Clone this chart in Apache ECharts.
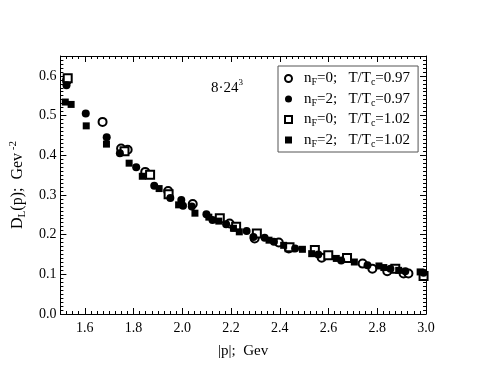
<!DOCTYPE html>
<html>
<head>
<meta charset="utf-8">
<script src="https://cdn.jsdelivr.net/npm/echarts@6/dist/echarts.min.js"></script>
<style>
  html, body { margin: 0; padding: 0; background: #fff; }
  #main { width: 480px; height: 371px; }
</style>
</head>
<body>
<div id="main"></div>
<script>
// data: [|p| (Gev), D_L (Gev^-2)]
var nf0_097 = [
  [1.527, 0.588], [1.673, 0.484], [1.749, 0.417], [1.776, 0.414], [1.848, 0.358],
  [1.942, 0.310], [2.043, 0.277], [2.194, 0.228], [2.297, 0.190], [2.396, 0.180],
  [2.437, 0.165], [2.572, 0.142], [2.740, 0.127], [2.780, 0.114], [2.841, 0.108],
  [2.908, 0.102], [2.928, 0.102]
];
var nf2_097 = [
  [1.525, 0.576], [1.604, 0.505], [1.690, 0.445], [1.744, 0.405], [1.811, 0.370],
  [1.885, 0.323], [1.951, 0.292], [1.996, 0.287], [2.003, 0.273], [2.039, 0.271],
  [2.099, 0.251], [2.124, 0.237], [2.180, 0.226], [2.264, 0.209], [2.292, 0.194],
  [2.338, 0.192], [2.376, 0.182], [2.463, 0.165], [2.558, 0.150], [2.652, 0.135],
  [2.760, 0.123], [2.854, 0.114], [2.915, 0.108], [2.990, 0.104]
];
var nf0_102 = [
  [1.530, 0.594], [1.763, 0.410], [1.868, 0.351], [1.944, 0.302], [2.154, 0.241],
  [2.221, 0.220], [2.306, 0.203], [2.440, 0.168], [2.544, 0.161], [2.599, 0.148],
  [2.676, 0.141], [2.874, 0.114], [2.990, 0.096]
];
var nf2_102 = [
  [1.520, 0.534], [1.544, 0.528], [1.606, 0.474], [1.689, 0.428], [1.782, 0.380],
  [1.836, 0.347], [1.905, 0.316], [1.985, 0.275], [2.052, 0.254], [2.109, 0.244],
  [2.150, 0.234], [2.210, 0.216], [2.234, 0.207], [2.356, 0.186], [2.416, 0.173],
  [2.493, 0.163], [2.531, 0.152], [2.632, 0.140], [2.706, 0.131], [2.807, 0.121],
  [2.827, 0.117], [2.888, 0.110], [2.976, 0.106]
];
var xTicks = [1.6, 1.8, 2.0, 2.2, 2.4, 2.6, 2.8, 3.0];
var seriesNames = ['a', 'b', 'c', 'd'];
var legendTexts = [
  '{g|}{t|n}{s|F}{t|=0;   T/T}{s|c}{t|=0.97}',
  '{g|}{t|n}{s|F}{t|=2;   T/T}{s|c}{t|=0.97}',
  '{g|}{t|n}{s|F}{t|=0;   T/T}{s|c}{t|=1.02}',
  '{g|}{t|n}{s|F}{t|=2;   T/T}{s|c}{t|=1.02}'
];

var font = 'Liberation Serif';
var black = { color: '#000', width: 1 };
var myChart = echarts.init(document.getElementById('main'));

// long ticks + labels at 0.2 steps
function xMajor(pos, show) {
  return {
    type: 'value', position: pos, min: 1.5, max: 3.0, interval: 0.025,
    axisLine: { show: true, onZero: false, lineStyle: black },
    axisTick: { show: true, inside: true, length: 6, customValues: xTicks, lineStyle: black },
    splitLine: { show: false },
    axisLabel: {
      show: show, customValues: xTicks, margin: 7, color: '#000', fontFamily: font, fontSize: 14,
      formatter: function (v) { return v.toFixed(1); }
    }
  };
}
// short ticks at 0.025 steps
function xMinor(pos) {
  return {
    type: 'value', position: pos, min: 1.5, max: 3.0, interval: 0.025,
    axisLine: { show: false, onZero: false },
    axisTick: { show: true, inside: true, length: 3, lineStyle: black },
    splitLine: { show: false },
    axisLabel: { show: false }
  };
}
function yAxisOf(pos, show) {
  return {
    type: 'value', position: pos, min: 0, max: 0.65, interval: 0.1,
    axisLine: { show: true, onZero: false, lineStyle: black },
    axisTick: { show: true, inside: true, length: 6, lineStyle: black },
    minorTick: { show: true, splitNumber: 10, length: 3, lineStyle: black },
    splitLine: { show: false },
    axisLabel: {
      show: show, margin: 4, color: '#000', fontFamily: font, fontSize: 14,
      showMaxLabel: false,
      formatter: function (v) { return v.toFixed(1); }
    }
  };
}

var xBottom = xMajor('bottom', true);
xBottom.name = '|p|;  Gev';
xBottom.nameLocation = 'middle';
xBottom.nameGap = 30;
xBottom.nameTextStyle = { color: '#000', fontFamily: font, fontSize: 15 };

var yLeft = yAxisOf('left', true);
yLeft.name = '{t|D}{s|L}{t|(p);  Gev}{p| -2}';
yLeft.nameLocation = 'middle';
yLeft.nameGap = 18;
yLeft.nameTextStyle = {
  color: '#000', fontFamily: font,
  rich: {
    t: { fontFamily: font, fontSize: 16, color: '#000', lineHeight: 20, verticalAlign: 'middle' },
    s: { fontFamily: font, fontSize: 11, color: '#000', lineHeight: 12, verticalAlign: 'bottom' },
    p: { fontFamily: font, fontSize: 11, color: '#000', lineHeight: 12, verticalAlign: 'top' }
  }
};

function sc(name, data, symbol, size, filled) {
  return {
    name: name, type: 'scatter', data: data, xAxisIndex: 0, yAxisIndex: 0,
    symbol: symbol, symbolSize: size,
    itemStyle: {
      color: '#000', borderColor: filled ? '#000' : '#444',
      borderWidth: filled ? 0 : 0.8, opacity: 1
    },
    emphasis: { disabled: true }
  };
}

myChart.setOption({
  animation: false,
  grid: { left: 55, right: 54, top: 56, bottom: 57, containLabel: false },
  xAxis: [xBottom, xMajor('top', false), xMinor('bottom'), xMinor('top')],
  yAxis: [yLeft, yAxisOf('right', false)],
  legend: {
    orient: 'vertical', left: 278, top: 66,
    padding: [5, 8, 3, 6], itemGap: 4,
    itemWidth: 7, itemHeight: 7,
    borderColor: '#555', borderWidth: 1,
    data: seriesNames,
    formatter: function (name) { return legendTexts[seriesNames.indexOf(name)]; },
    textStyle: {
      fontFamily: font,
      rich: {
        g: { width: 7 },
        t: { fontFamily: font, fontSize: 15, color: '#000', lineHeight: 18, verticalAlign: 'middle' },
        s: { fontFamily: font, fontSize: 10, color: '#000', lineHeight: 10, verticalAlign: 'bottom' }
      }
    }
  },
  graphic: [{
    type: 'text', left: 211, top: 78,
    style: {
      text: '{t|8·24}{p|3}',
      rich: {
        t: { fontFamily: font, fontSize: 15, fill: '#000', lineHeight: 18, verticalAlign: 'bottom' },
        p: { fontFamily: font, fontSize: 9, fill: '#000', lineHeight: 18, verticalAlign: 'top' }
      }
    }
  }],
  series: [
    sc('a', nf0_097, 'emptyCircle', 8, false),
    sc('c', nf0_102, 'emptyRect', 8, false),
    sc('d', nf2_102, 'rect', 7, true),
    sc('b', nf2_097, 'circle', 8, true)
  ]
});
</script>
</body>
</html>
